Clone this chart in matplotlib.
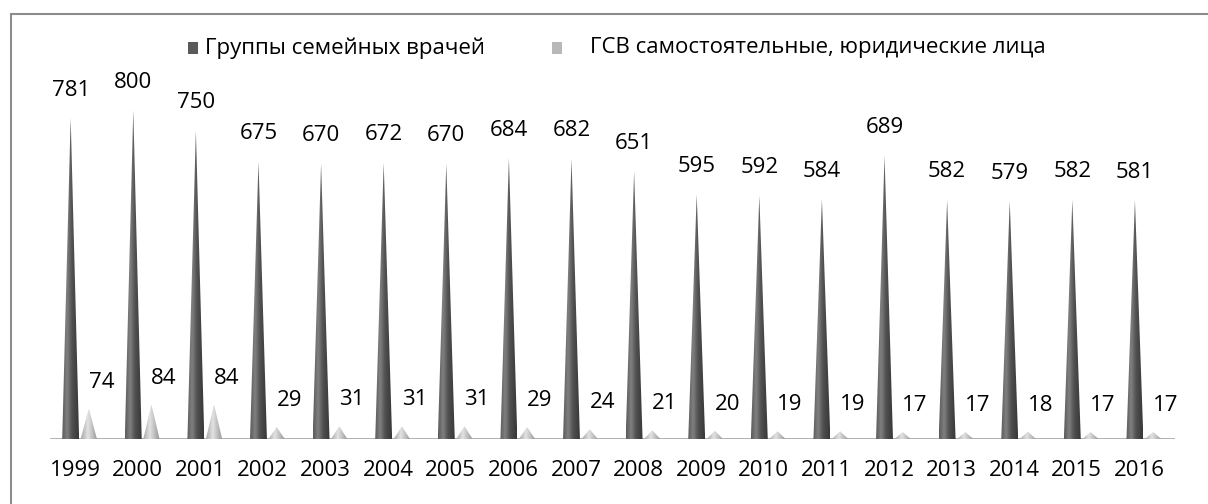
import numpy as np
import matplotlib
matplotlib.use("Agg")
import matplotlib.pyplot as plt
from matplotlib.patches import Polygon, Rectangle
from matplotlib.colors import LinearSegmentedColormap

plt.rcParams['font.family'] = ['Open Sans', 'DejaVu Sans']

years = ['1999', '2000', '2001', '2002', '2003', '2004', '2005', '2006', '2007',
         '2008', '2009', '2010', '2011', '2012', '2013', '2014', '2015', '2016']
gsv_groups = [781, 800, 750, 675, 670, 672, 670, 684, 682, 651, 595, 592, 584,
              689, 582, 579, 582, 581]
gsv_independent = [74, 84, 84, 29, 31, 31, 31, 29, 24, 21, 20, 19, 19, 17, 17,
                   18, 17, 17]
series_names = ['Группы семейных врачей', 'ГСВ самостоятельные, юридические лица']

W, H = 1208, 504
fig = plt.figure(figsize=(W / 100, H / 100), dpi=100)
ax = fig.add_axes([50 / W, 65 / H, 1125 / W, 370 / H])
ax.set_xlim(-0.4, 17.57)
ax.set_ylim(0, 900)
ax.axis('off')

dark_cmap = LinearSegmentedColormap.from_list(
    'dark', [(0, '#5c5c5c'), (0.3, '#808080'), (0.6, '#505050'), (1, '#383838')])
light_cmap = LinearSegmentedColormap.from_list(
    'light', [(0, '#a8a8a8'), (0.4, '#e2e2e2'), (0.7, '#bdbdbd'), (1, '#959595')])
grad = np.linspace(0, 1, 64).reshape(1, -1)


def cone(xc, h, w, cmap):
    poly = Polygon([(xc - w / 2, 0), (xc, h), (xc + w / 2, 0)], closed=True,
                   facecolor='none', edgecolor='none')
    ax.add_patch(poly)
    im = ax.imshow(grad, cmap=cmap, extent=[xc - w / 2, xc + w / 2, 0, h],
                   aspect='auto', interpolation='bilinear', zorder=2)
    im.set_clip_path(poly)


x = np.arange(len(years))
dark_off, light_off = -0.07, 0.22
for i in range(len(years)):
    cone(x[i] + dark_off, gsv_groups[i], 0.27, dark_cmap)
    cone(x[i] + light_off, gsv_independent[i], 0.26, light_cmap)
    ax.annotate(str(gsv_groups[i]), (x[i] + dark_off, gsv_groups[i]),
                xytext=(0, 20), textcoords='offset points', ha='center',
                va='center', fontsize=16, color='black', annotation_clip=False)
    ax.annotate(str(gsv_independent[i]), (x[i] + light_off, gsv_independent[i]),
                xytext=(9, 19), textcoords='offset points', ha='center',
                va='center', fontsize=16, color='black', annotation_clip=False)
    ax.text(x[i], -31 / 0.411, years[i], ha='center', va='center',
            fontsize=16, color='black')

ax.set_xlim(-0.4, 17.57)
ax.set_ylim(0, 900)
ax.axhline(0, color='#9a9a9a', lw=1.8, zorder=1)

# legend
fig.patches.append(Rectangle((188 / W, 1 - 54 / H), 10 / W, 12 / H,
                             transform=fig.transFigure, facecolor='#5a5a5a',
                             edgecolor='none'))
fig.text(205 / W, 1 - 48 / H, series_names[0], ha='left', va='center',
         fontsize=16, color='black')
fig.patches.append(Rectangle((552 / W, 1 - 54 / H), 10 / W, 12 / H,
                             transform=fig.transFigure, facecolor='#b8b8b8',
                             edgecolor='none'))
fig.text(590 / W, 1 - 48 / H, series_names[1], ha='left', va='center',
         fontsize=16, color='black')

# outer border
fig.patches.append(Rectangle((11 / W, -0.1), 1.2, 1.1 - 14 / H,
                             transform=fig.transFigure, facecolor='none',
                             edgecolor='#8c8c8c', lw=1.5))

fig.savefig('out.png', dpi=100)
